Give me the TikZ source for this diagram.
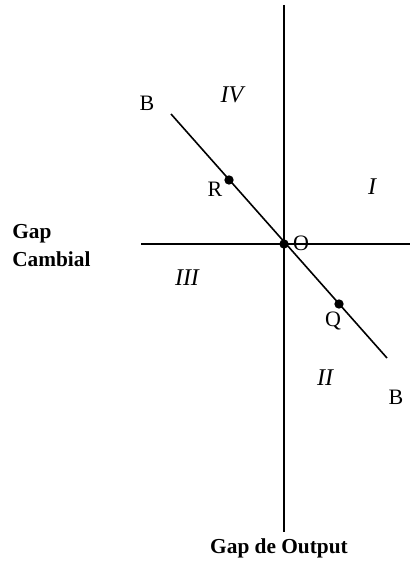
\documentclass[tikz,border=0pt]{standalone}
\usepackage{fontspec}
\setmainfont{Liberation Serif}
\usetikzlibrary{positioning}
\tikzset{
  axis/.style={line width=1pt,black},
  bline/.style={line width=1.2pt,black},
  pointdot/.style={circle,fill=black,inner sep=0pt,minimum size=7pt},
  ptlabel/.style={font=\fontsize{16.5}{18}\selectfont,inner sep=0pt},
  quadlabel/.style={font=\fontsize{18}{20}\selectfont\itshape,inner sep=0pt},
  axislabel/.style={font=\fontsize{16}{21}\selectfont\bfseries,inner sep=0pt,align=left}
}
\begin{document}
\begin{tikzpicture}[x=0.75pt,y=-0.75pt]
  \useasboundingbox (0,0) rectangle (412,566);
  % axes
  \coordinate (vtop) at (284,5);
  \coordinate (vbot) at (284,532);
  \coordinate (hleft) at (141,244);
  \coordinate (hright) at (410,244);
  \draw[axis] (vtop) -- (vbot);
  \draw[axis] (hleft) -- (hright);

  % line B--B
  \coordinate (b1) at (171,114);
  \coordinate (b2) at (387,358);
  \draw[bline] (b1) -- (b2);

  \node[pointdot] (r) at (229,180) {};
  \node[pointdot] (o) at (284,244) {};
  \node[pointdot] (q) at (339,304) {};

  \node[ptlabel] (lb1) at (147,103) {B};
  \node[ptlabel] (lb2) at (396,397) {B};
  \node[ptlabel] (lr) at (215,189) {R};
  \node[ptlabel] (lo) at (301,243) {O};
  \node[ptlabel] (lq) at (333,321) {Q};

  \node[quadlabel] (q4) at (232,95) {IV};
  \node[quadlabel] (q1) at (372,187) {I};
  \node[quadlabel] (q3) at (187,278) {III};
  \node[quadlabel] (q2) at (325,378) {II};

  \node[axislabel,anchor=west] (gapc) at (12,246) {Gap\\Cambial};
  \node[axislabel] (gapo) at (279,548) {Gap de Output};
\end{tikzpicture}
\end{document}
